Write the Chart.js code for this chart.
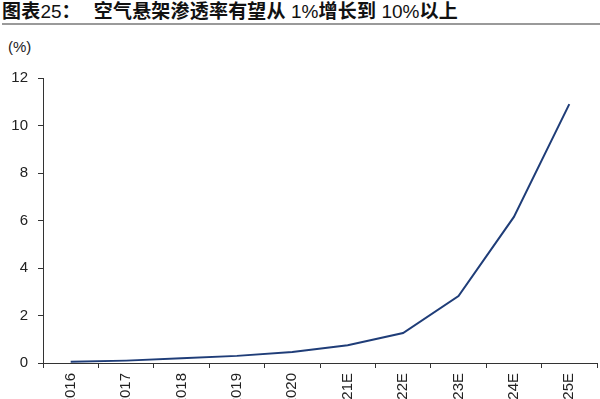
<!DOCTYPE html>
<html>
<head>
<meta charset="utf-8">
<script src="https://cdn.jsdelivr.net/npm/chart.js@4"></script>
<style>
  html, body { margin: 0; padding: 0; background: #fff; }
  body { width: 600px; height: 399px; overflow: hidden; position: relative; }
  #title {
    position: absolute; left: 2px; top: 0px; width: 598px; height: 23px;
    border-bottom: 2px solid #9a9a9a;
    font-family: "Liberation Sans", "Noto Sans CJK SC", sans-serif; font-weight: bold; font-size: 19px;
    letter-spacing: 0.2px;
    line-height: 23px; color: #111; white-space: nowrap;
  }
  #title .n { font-weight: normal; letter-spacing: 0; }
  #title .gap { display: inline-block; width: 13px; }
  #unit {
    position: absolute; left: 8px; top: 38px;
    font-family: "Liberation Sans", Arial, sans-serif; font-size: 15px; color: #222;
  }
  #wrap { position: absolute; left: 0; top: 0; width: 600px; height: 420px; }
</style>
</head>
<body>
<div id="title">图表<span class="n">25</span>：<span class="gap"></span>空气悬架渗透率有望从<span class="n"> 1%</span>增长到<span class="n"> 10%</span>以上</div>
<div id="unit">(%)</div>
<div id="wrap"><canvas id="myLineChart" width="600" height="420"></canvas></div>
<script>
// 年份和渗透率（%）
var labels = ['2016', '2017', '2018', '2019', '2020', '2021E', '2022E', '2023E', '2024E', '2025E'];
var values = [0.05, 0.1, 0.2, 0.3, 0.46, 0.75, 1.26, 2.82, 6.15, 10.9];
var yTicks = [0, 2, 4, 6, 8, 10, 12];

var tickFont = { family: '"Liberation Sans", Arial, sans-serif', size: 15 };
var axisColor = '#333';

var ctx = document.getElementById('myLineChart').getContext('2d');
var myLineChart = new Chart(ctx, {
    type: 'line',
    data: {
        labels: labels,
        datasets: [{
            data: values,
            borderColor: '#1f3d78',
            borderWidth: 2,
            pointRadius: 0,
            tension: 0,
            fill: false
        }]
    },
    options: {
        responsive: false,
        animation: false,
        layout: { padding: { top: 78, right: 3, left: 0, bottom: 0 } },
        plugins: { legend: { display: false }, tooltip: { enabled: false } },
        scales: {
            x: {
                offset: true,
                grid: { offset: true, drawOnChartArea: false, color: axisColor, tickLength: 5 },
                border: { color: axisColor, width: 1 },
                ticks: { font: tickFont, color: '#222', minRotation: 90, maxRotation: 90, autoSkip: false, padding: 5 },
                afterFit: function (scale) { scale.height = 57; }
            },
            y: {
                min: 0,
                max: 12,
                afterBuildTicks: function (scale) { scale.ticks = yTicks.map(v => ({ value: v })); },
                grid: { drawOnChartArea: false, color: axisColor, tickLength: 5 },
                border: { color: axisColor, width: 1 },
                ticks: { font: tickFont, color: '#222', padding: 10 },
                afterFit: function (scale) { scale.width = 43; }
            }
        }
    }
});
</script>
</body>
</html>
